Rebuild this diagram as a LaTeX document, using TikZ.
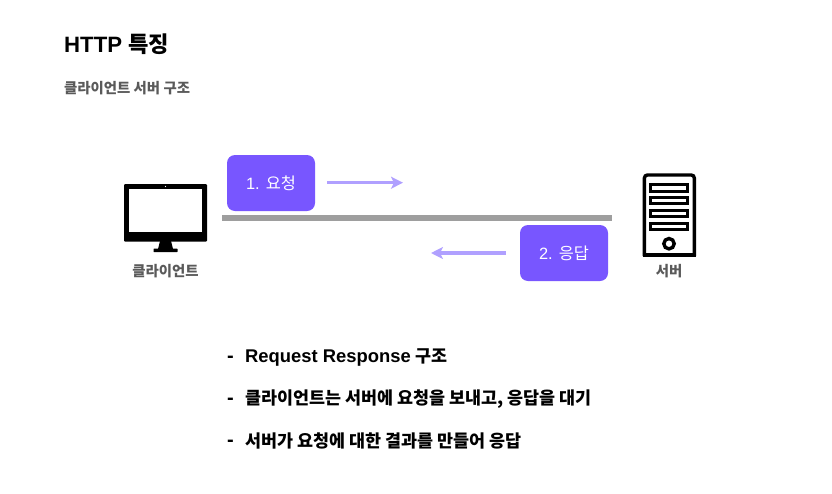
\documentclass[tikz,border=0pt]{standalone}
\usepackage{fontspec}
\setmainfont{Liberation Sans}
\newfontfamily\kr{Noto Sans CJK KR}
\usetikzlibrary{arrows.meta}
\definecolor{boxpurple}{HTML}{7856FF}
\definecolor{arrowpurple}{HTML}{B0A0FF}
\definecolor{rulegray}{HTML}{9E9E9E}
\definecolor{textgray}{HTML}{5A5A5A}
\tikzset{
  stepbox/.style={fill=boxpurple,draw=none,rounded corners=8pt,minimum width=88pt,minimum height=56pt,text=white,font=\fontsize{16.4}{18}\selectfont,inner sep=0pt},
  flowarrow/.style={line width=3.2pt,arrowpurple,-{Stealth[length=12pt,width=12pt,inset=3pt]}},
  sublabel/.style={text=textgray,font=\fontsize{14.4}{16}\selectfont\kr\bfseries,inner sep=0pt},
  bulletline/.style={anchor=west,font=\fontsize{17.4}{20}\selectfont\bfseries,inner sep=0pt},
  dashmark/.style={anchor=west,font=\fontsize{20}{20}\selectfont\bfseries,inner sep=0pt}
}
\begin{document}
\begin{tikzpicture}[x=1pt,y=-1pt]
  \useasboundingbox (0,0) rectangle (832,493);
  % titles
  \node[anchor=west,inner sep=0pt,font=\fontsize{22.2}{24}\selectfont\bfseries] (title) at (64,44) {HTTP {\kr 특징}};
  \node[anchor=west,sublabel] (subtitle) at (64,88) {클라이언트 서버 구조};
  % client
  \fill[black,rounded corners=1pt] (124,184) rectangle (207,241.7);
  \fill[white] (129,189.3) rectangle (202,232);
  \fill[white] (165.5,186.5) circle (.7);
  \fill[black] (160,241) -- (171,241) -- (173,249) -- (158,249) -- cycle;
  \fill[black,rounded corners=.5pt] (153.5,248.5) rectangle (177.5,252);
  \node[sublabel] (client) at (165.5,271) {클라이언트};
  % server
  \draw[line width=3.4pt,black,rounded corners=3pt] (644.4,256) -- (644.4,175) -- (694.3,175) -- (694.3,256);
  \draw[line width=3.4pt,black] (642.7,255) -- (696,255);
  \foreach \y in {184.8,197.5,210.2,223.2}
    \draw[line width=3pt,black] (650.2,\y) rectangle (687.8,\y+6.2);
  \draw[line width=3.4pt,black] (669,243.7) circle (5.2);
  \node[sublabel] (server) at (669,271) {서버};
  % wire
  \coordinate (wireL) at (222,217.8);
  \coordinate (wireR) at (612,217.8);
  \draw[line width=6.4pt,rulegray] (wireL) -- (wireR);
  % request and response
  \node[stepbox] (request) at (271,183) {1. {\kr 요청}};
  \node[stepbox] (response) at (564,253) {2. {\kr 응답}};
  \coordinate (reqA) at (327,182.7);
  \coordinate (reqB) at (403,182.7);
  \coordinate (resA) at (506,253);
  \coordinate (resB) at (431,253);
  \draw[flowarrow] (reqA) -- (reqB);
  \draw[flowarrow] (resA) -- (resB);
  % list
  \node[dashmark] (dashA) at (227,359.5) {-};
  \node[dashmark] (dashB) at (227,401) {-};
  \node[dashmark] (dashC) at (227,443) {-};
  \node[bulletline] (lineA) at (245,358) {{\fontsize{18.4}{20}\selectfont Request Response} {\kr 구조}};
  \node[bulletline] (lineB) at (245,399) {\kr 클라이언트는 서버에 요청을 보내고, 응답을 대기};
  \node[bulletline] (lineC) at (245,440.5) {\kr 서버가 요청에 대한 결과를 만들어 응답};
\end{tikzpicture}
\end{document}
